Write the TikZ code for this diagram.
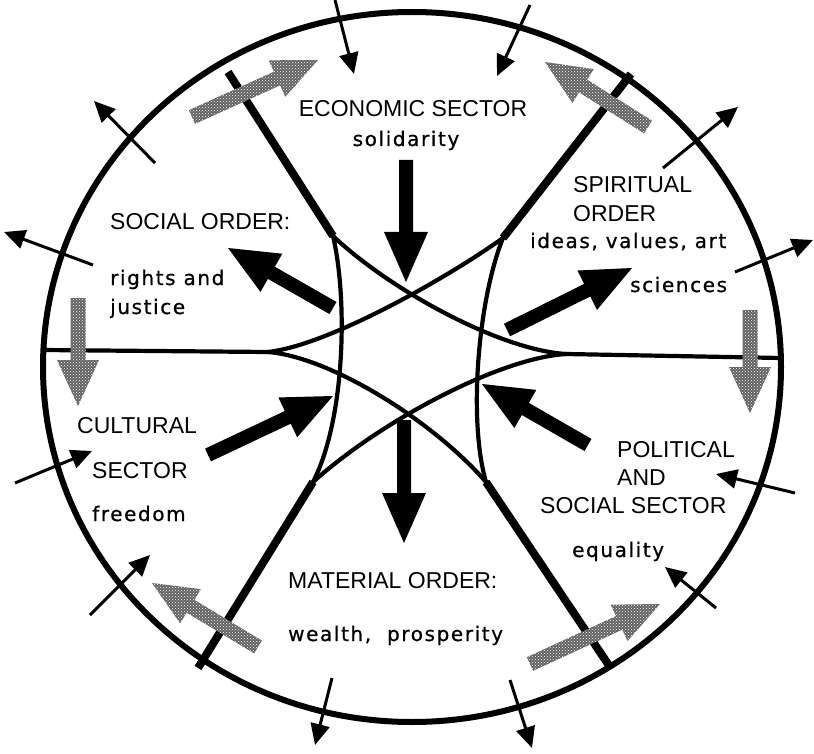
\documentclass[tikz,border=0pt]{standalone}
\usepackage{fontspec}
\newfontfamily\capsfont{Liberation Sans}
\newfontfamily\plainfont[LetterSpace=8,FakeBold=0.8]{DejaVu Sans}
\usetikzlibrary{arrows.meta,calc,patterns}
\tikzset{
    ring/.style={line width=6pt},
    spoke/.style={line width=8pt},
    seam/.style={line width=4.2pt, line cap=round},
    flow/.style={
        -{Triangle[length=21pt,width=19pt]},
        line width=3pt
    },
    title/.style={
        font=\capsfont\fontsize{23}{26}\selectfont,
        inner sep=0pt,
        anchor=base west
    },
    value/.style={
        font=\plainfont\fontsize{20}{24}\selectfont,
        inner sep=0pt,
        anchor=base west
    },
    push/.style={fill=black},
    halo/.style={fill=black!62, postaction={pattern=crosshatch dots, pattern color=white}}
}
% fat arrow: style, tail, tip, half shaft, half head, head length
\newcommand{\fatarrow}[6]{%
    \coordinate (fa-h) at ($(#3)!#6!(#2)$);
    \path[#1] ($(#2)!#4!90:(#3)$) -- ($(fa-h)!#4!90:(#3)$)
        -- ($(fa-h)!#5!90:(#3)$) -- (#3)
        -- ($(fa-h)!#5!-90:(#3)$) -- ($(fa-h)!#4!-90:(#3)$)
        -- ($(#2)!#4!-90:(#3)$) -- cycle;
}

\begin{document}
\begin{tikzpicture}[x=1pt, y=-1pt]
    \useasboundingbox (0,0) rectangle (814,754);

    % Outer ring
    \draw[ring] (412,367) ellipse [x radius=369pt, y radius=355pt];

    % Junctions of the star
    \coordinate (L)  at (268,352);
    \coordinate (R)  at (566,354);
    \coordinate (TL) at (333,236);
    \coordinate (TR) at (503,238);
    \coordinate (BL) at (313,482);
    \coordinate (BR) at (486,482);

    % Horizontal seams
    \draw[seam] (43,350) -- (L);
    \draw[seam] (R) -- (781,358);

    % Curved star
    \draw[seam] (L) .. controls (330,345) and (450,276) .. (TR);
    \draw[seam] (L) .. controls (330,357) and (432,420) .. (BR);
    \draw[seam] (R) .. controls (500,350) and (390,290) .. (TL);
    \draw[seam] (R) .. controls (500,358) and (382,420) .. (BL);
    \draw[seam] (TL) .. controls (348,300) and (345,420) .. (BL);
    \draw[seam] (TR) .. controls (478,300) and (468,420) .. (BR);

    % Spokes to the ring
    \draw[spoke] (TL) -- (228,72);
    \draw[spoke] (TR) -- (631,74);
    \draw[spoke] (BL) -- (198,668);
    \draw[spoke] (BR) -- (610,667);

    % Gray arrows
    \fatarrow{halo}{192,117}{318,60}{7.5pt}{20pt}{45pt}
    \fatarrow{halo}{648,127}{545,62}{7.5pt}{20pt}{45pt}
    \fatarrow{halo}{78,298}{78,406}{7.5pt}{21pt}{46pt}
    \fatarrow{halo}{750,310}{750,413}{7.5pt}{21pt}{46pt}
    \fatarrow{halo}{258,647}{152,583}{7.5pt}{20pt}{45pt}
    \fatarrow{halo}{530,664}{660,604}{7.5pt}{20pt}{45pt}

    % Black arrows to and from the centre
    \fatarrow{push}{406,160}{406,282}{7pt}{22pt}{50pt}
    \fatarrow{push}{404,420}{404,543}{7pt}{22pt}{50pt}
    \fatarrow{push}{333,308}{228,248}{7pt}{22pt}{50pt}
    \fatarrow{push}{208,455}{333,396}{7pt}{22pt}{50pt}
    \fatarrow{push}{507,330}{632,268}{7pt}{22pt}{50pt}
    \fatarrow{push}{588,445}{482,384}{7pt}{22pt}{50pt}

    % Thin arrows across the ring
    \draw[flow] (335,0) -- (354,74);
    \draw[flow] (530,5) -- (497,76);
    \draw[flow] (155,163) -- (94,101);
    \draw[flow] (93,265) -- (4,232);
    \draw[flow] (663,168) -- (738,107);
    \draw[flow] (735,272) -- (813,240);
    \draw[flow] (795,493) -- (716,474);
    \draw[flow] (716,608) -- (665,567);
    \draw[flow] (510,680) -- (532,748);
    \draw[flow] (332,678) -- (315,745);
    \draw[flow] (90,615) -- (150,555);
    \draw[flow] (15,483) -- (92,451);

    % Labels
    \node[title, anchor=base] (econ) at (413,117) {ECONOMIC SECTOR};
    \node[value, anchor=base] (solid) at (406,146) {solidarity};
    \node[title] (social) at (110,230) {SOCIAL ORDER:};
    \node[value] (rights) at (110,285) {rights and};
    \node[value] (justice) at (110,314) {justice};
    \node[title] (spirit) at (573,193) {SPIRITUAL};
    \node[title] (order) at (573,222) {ORDER};
    \node[value] (ideas) at (530,248) {ideas, values, art};
    \node[value] (science) at (630,292) {sciences};
    \node[title] (cult) at (77,433) {CULTURAL};
    \node[title] (cultsec) at (92,478) {SECTOR};
    \node[value] (free) at (92,521) {freedom};
    \node[title] (polit) at (617,457) {POLITICAL};
    \node[title] (and) at (617,485) {AND};
    \node[title] (polsec) at (540,513) {SOCIAL SECTOR};
    \node[value] (equal) at (572,557) {equality};
    \node[title] (mater) at (288,588) {MATERIAL ORDER:};
    \node[value] (wealth) at (288,641) {wealth,\ \ prosperity};
\end{tikzpicture}
\end{document}
